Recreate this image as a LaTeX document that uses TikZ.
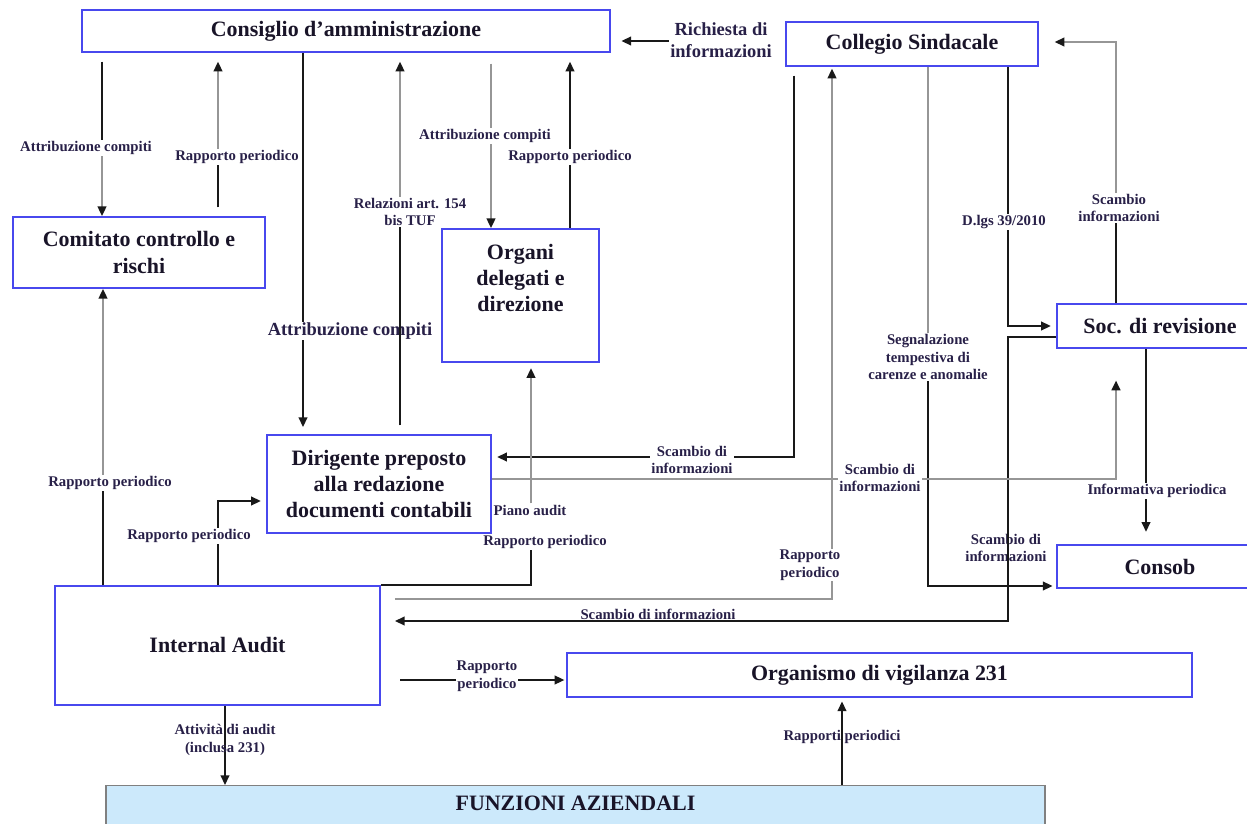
\documentclass[tikz,border=0pt]{standalone}
\usepackage{fontspec}
\setmainfont{Liberation Serif}
\usepackage{tikz}
\usetikzlibrary{arrows.meta}

\definecolor{boxblue}{RGB}{72,72,238}
\definecolor{wire}{RGB}{25,25,25}
\definecolor{wiregray}{RGB}{150,150,150}
\definecolor{lbltext}{RGB}{40,32,72}
\definecolor{boxtext}{RGB}{25,20,40}
\definecolor{funzfill}{RGB}{204,233,251}
\definecolor{funzline}{RGB}{128,128,128}

\tikzset{
  ente/.style={draw=boxblue, line width=1.1pt, fill=white, text=boxtext,
    font=\fontsize{12.5}{15}\selectfont\bfseries, align=center, inner sep=0pt},
  entetxt/.style={text=boxtext, font=\fontsize{12.5}{15}\selectfont\bfseries, align=center, inner sep=0pt},
  lbl/.style={font=\fontsize{8.4}{10}\selectfont\bfseries, text=lbltext, align=center,
    fill=white, inner sep=0.6pt},
  lblbig/.style={lbl, font=\fontsize{10.5}{12.5}\selectfont\bfseries},
  lblclear/.style={lbl, fill=none},
  flow/.style={draw=wire, line width=0.8pt},
  flowgray/.style={draw=wiregray, line width=1pt},
}

\begin{document}
\begin{tikzpicture}[x=0.02cm, y=-0.02cm, >={Triangle[length=5.5pt,width=5pt,color=wire]}]
  \useasboundingbox[fill=white] (0,0) rectangle (1247,824);

  \node[ente, minimum width=10.56cm, minimum height=0.84cm] (cda) at (346,31) {Consiglio d'amministrazione};
  \node[ente, minimum width=5.04cm, minimum height=0.88cm] (cs) at (912,44) {Collegio Sindacale};
  \node[ente, minimum width=5.04cm, minimum height=1.42cm] (ccr) at (139,252.5) {Comitato controllo e\\rischi};
  \node[ente, minimum width=3.14cm, minimum height=2.66cm] (org) at (520.5,295.5) {};
  \node[entetxt] (orgtxt) at (520.5,278) {Organi\\delegati e\\direzione};
  \node[ente, minimum width=4.48cm, minimum height=1.96cm] (dp) at (379,484) {Dirigente preposto\\alla redazione\\documenti contabili};
  \node[ente, minimum width=4.12cm, minimum height=0.88cm] (sdr) at (1160,326) {Soc. di revisione};
  \node[ente, minimum width=4.12cm, minimum height=0.86cm] (consob) at (1160,566.5) {Consob};
  \node[ente, minimum width=6.5cm, minimum height=2.38cm] (ia) at (217.5,645.5) {Internal Audit};
  \node[ente, minimum width=12.5cm, minimum height=0.88cm] (odv) at (879.5,675) {Organismo di vigilanza 231};
  \node[ente, draw=funzline, fill=funzfill, line width=0.8pt, minimum width=18.78cm,
    text height=0.5cm, text depth=0.8cm, anchor=north] (fa) at (575.5,785) {FUNZIONI AZIENDALI};

  \node[lbl] (l_attr1) at (86,148) {Attribuzione compiti};
  \draw[flow, shorten <=5pt] (cda.south -| 102,0) -- (l_attr1.north -| 102,0);
  \draw[flowgray, ->] (l_attr1.south -| 102,0) -- (ccr.north -| 102,0);

  \node[lbl] (l_rap1) at (237,157) {Rapporto periodico};
  \draw[flow, shorten <=5pt] (ccr.north -| 218,0) -- (l_rap1.south -| 218,0);
  \draw[flowgray, ->, shorten >=5pt] (l_rap1.north -| 218,0) -- (cda.south -| 218,0);

  \draw[flow, ->, shorten >=4pt] (cda.south -| 303,0) -- (dp.north -| 303,0)
    node[lblbig] (l_attr2) at (350,331) {Attribuzione compiti};

  \node[lbl] (l_rel) at (410,212) {Relazioni art. 154\\bis TUF};
  \draw[flow, shorten <=5pt] (dp.north -| 400,0) -- (l_rel.south -| 400,0);
  \draw[flowgray, ->, shorten >=5pt] (l_rel.north -| 400,0) -- (cda.south -| 400,0);

  \draw[flowgray, ->, shorten <=6pt] (cda.south -| 491,0) -- (org.north -| 491,0)
    node[lbl] (l_attr3) at (485,136) {Attribuzione compiti};
  \draw[flow, ->, shorten >=5pt] (org.north -| 570,0) -- (cda.south -| 570,0)
    node[lbl] (l_rap2) at (570,157) {Rapporto periodico};

  \draw[flow, ->, shorten <=8pt, shorten >=6pt] (cs.west |- 0,41) -- (cda.east |- 0,41)
    node[lblbig] (l_rich) at (721,40) {Richiesta di\\informazioni};

  \draw[flow, ->, shorten <=5pt, shorten >=3pt] (cs.south -| 794,0) |- (dp.east |- 0,457)
    node[lbl] (l_scH) at (692,460) {Scambio di\\informazioni};

  \draw[flowgray, ->, shorten <=8pt, shorten >=1pt] (ia.east |- 0,599) -| (cs.south -| 832,0)
    node[lbl] (l_rap3) at (810,565) {Rapporto\\periodico};

  \node[lbl] (l_seg) at (928,357) {Segnalazione\\tempestiva di\\carenze e anomalie};
  \draw[flowgray] (cs.south -| 928,0) -- (l_seg.north);
  \draw[flow, ->, shorten >=2pt] (l_seg.south) |- (consob.west |- 0,586)
    node[lblclear] (l_scC) at (1006,548) {Scambio di\\informazioni};

  \coordinate (kbend) at (1008,621);
  \draw[flow, ->, shorten >=8pt] (sdr.west |- 0,337) -| (kbend) -- (ia.east |- kbend)
    node[lbl] (l_scK) at (658,614) {Scambio di informazioni};

  \draw[flow, ->, shorten >=3pt] (cs.south -| 1008,0) |- (sdr.west |- 0,326)
    node[lbl] (l_dlgs) at (1004,222) {D.lgs 39/2010};

  \node[lbl] (l_scM) at (1119,208) {Scambio\\informazioni};
  \draw[flow] (sdr.north -| 1116,0) -- (l_scM.south -| 1116,0);
  \draw[flowgray, ->, shorten >=9pt] (l_scM.north -| 1116,0) |- (cs.east |- 0,42);

  \draw[flow, ->, shorten >=7pt] (sdr.south -| 1146,0) -- (consob.north -| 1146,0)
    node[lbl] (l_inf) at (1157,491) {Informativa periodica};

  \draw[flowgray, ->, shorten >=18pt] (dp.east |- 0,479) -| (sdr.south -| 1116,0)
    node[lbl] (l_scO) at (880,478) {Scambio di\\informazioni};

  \node[lbl] (l_piano) at (530,510) {Piano audit};
  \node[lbl] (l_rap4) at (545,542) {Rapporto periodico};
  \draw[flow] (ia.north east) -| (l_rap4.south -| 531,0);
  \draw[flowgray, ->, shorten >=3pt] (l_piano.north -| 531,0) -- (org.south -| 531,0);

  \draw[flow, ->, shorten >=3pt] (ia.north -| 218,0) |- (dp.west |- 0,501)
    node[lbl] (l_rap5) at (189,536) {Rapporto periodico};

  \node[lbl] (l_rap6) at (110,483) {Rapporto periodico};
  \draw[flow] (ia.north -| 103,0) -- (l_rap6.south -| 103,0);
  \draw[flowgray, ->] (l_rap6.north -| 103,0) -- (ccr.south -| 103,0);

  \draw[flow, ->, shorten <=11pt, shorten >=1pt] (ia.east |- 0,680) -- (odv.west |- 0,680)
    node[lbl] (l_rap7) at (487,676) {Rapporto\\periodico};

  \draw[flow, ->] (ia.south -| 225,0) -- (fa.north -| 225,0)
    node[lblclear] (l_att) at (225,740) {Attività di audit\\(inclusa 231)};
  \draw[flow, ->, shorten >=2pt] (fa.north -| 842,0) -- (odv.south -| 842,0)
    node[lblclear] (l_rapp) at (842,737) {Rapporti periodici};
\end{tikzpicture}
\end{document}
